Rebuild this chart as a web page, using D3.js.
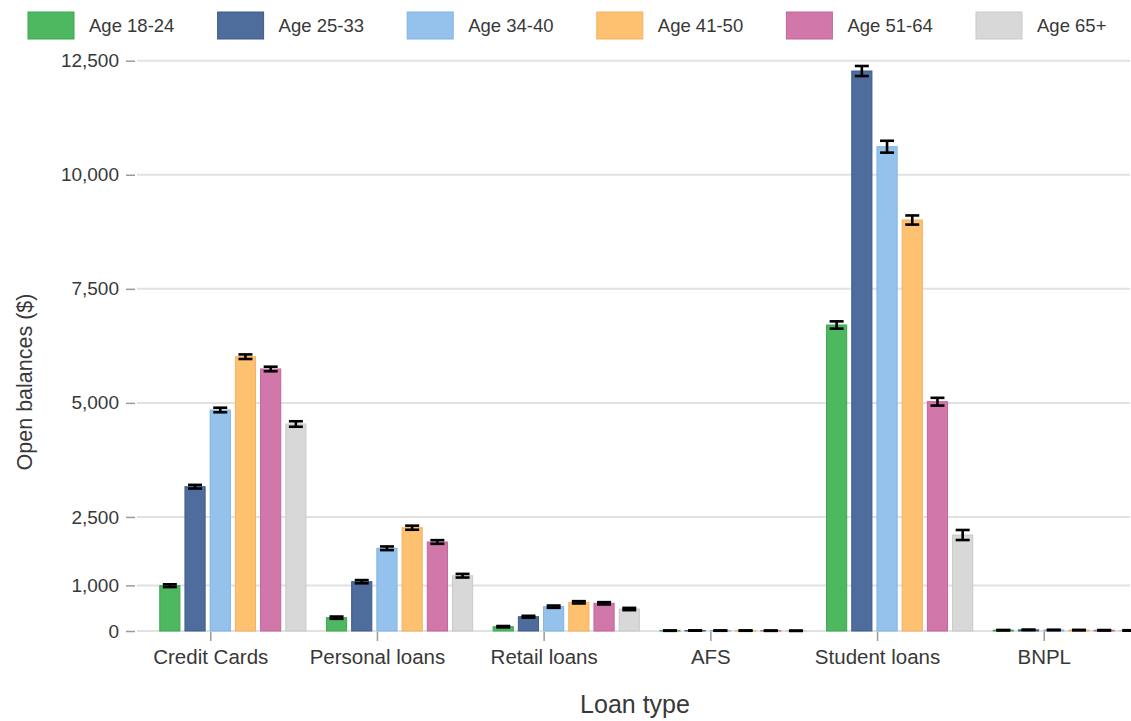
<!DOCTYPE html>
<html>
<head>
<meta charset="utf-8">
<script src="https://cdn.jsdelivr.net/npm/d3@7"></script>
<style>
  html, body { margin: 0; padding: 0; background: #fff; }
  svg { display: block; font-family: "Liberation Sans", Arial, Helvetica, sans-serif; }
</style>
</head>
<body>
<svg id="chart" width="1131" height="721"></svg>
<script>
// Loan types along the x axis
const categories = ["Credit Cards", "Personal loans", "Retail loans", "AFS", "Student loans", "BNPL"];

// Age groups (one bar per group inside each loan type)
const ageGroups = ["Age 18-24", "Age 25-33", "Age 34-40", "Age 41-50", "Age 51-64", "Age 65+"];
const ageColors = ["#4db860", "#4e6d9c", "#95c2ec", "#fec170", "#d177aa", "#d8d8d8"];
const ageStrokes = ["#3fa552", "#3e5c8a", "#7fb3e3", "#f4b160", "#c0669a", "#c9c9c9"];

// Mean open balances ($), by age group, in the order of `categories`
const age18_24 = [993, 292, 94, 8, 6707, 18];
const age25_33 = [3163, 1081, 313, 10, 12274, 25];
const age34_40 = [4844, 1813, 533, 9, 10615, 22];
const age41_50 = [6012, 2264, 629, 9, 9008, 20];
const age51_64 = [5743, 1951, 607, 7, 5026, 16];
const age65plus = [4537, 1212, 482, 5, 2104, 12];

// Standard errors ($), same layout
const err18_24 = [30, 25, 15, 4, 80, 5];
const err25_33 = [40, 35, 20, 4, 110, 5];
const err34_40 = [50, 40, 25, 4, 130, 5];
const err41_50 = [50, 45, 25, 4, 100, 5];
const err51_64 = [50, 40, 25, 4, 85, 5];
const err65plus = [60, 40, 25, 4, 110, 5];

const yTicks = [0, 1000, 2500, 5000, 7500, 10000, 12500];

const valuesByAge = [age18_24, age25_33, age34_40, age41_50, age51_64, age65plus];
const errorsByAge = [err18_24, err25_33, err34_40, err41_50, err51_64, err65plus];

// Flat records for the bars
const records = [];
ageGroups.forEach((age, a) => {
  categories.forEach((cat, c) => {
    records.push({ age, a, cat, value: valuesByAge[a][c], err: errorsByAge[a][c] });
  });
});

const svg = d3.select("#chart");
const textColor = "#383838";
const gridColor = "#e2e2e2";

// Scales
const y = d3.scaleLinear().domain([0, 12500]).range([631, 60.7]);
const x0 = d3.scaleBand().domain(categories).range([127.4, 1127.6]);
const x1 = d3.scaleBand().domain(ageGroups).range([-51, 95.2]).paddingInner(0.2);
const catCenter = c => x0(c) + x0.bandwidth() / 2;

// Horizontal grid lines
svg.append("g")
  .selectAll("line")
  .data(yTicks)
  .join("line")
  .attr("x1", 137).attr("x2", 1130)
  .attr("y1", d => y(d)).attr("y2", d => y(d))
  .attr("stroke", gridColor)
  .attr("stroke-width", 2);

// Y axis
const yAxis = svg.append("g")
  .attr("transform", "translate(135,0)")
  .call(d3.axisLeft(y).tickValues(yTicks).tickSize(9).tickPadding(7).tickFormat(d3.format(",")));
yAxis.select(".domain").remove();
yAxis.selectAll(".tick line").attr("stroke", "#9a9a9a").attr("stroke-width", 1.5);
yAxis.selectAll(".tick text").attr("fill", textColor).attr("font-size", 19);

// X axis
const xAxis = svg.append("g")
  .attr("transform", "translate(0,632)")
  .call(d3.axisBottom(x0).tickSize(9).tickPadding(8));
xAxis.select(".domain").remove();
xAxis.selectAll(".tick line").attr("stroke", "#9a9a9a").attr("stroke-width", 1.5);
xAxis.selectAll(".tick text").attr("fill", textColor).attr("font-size", 20.5);

// Bars
const barG = svg.append("g");
barG.selectAll("rect")
  .data(records)
  .join("rect")
  .attr("x", d => catCenter(d.cat) + x1(d.age))
  .attr("width", x1.bandwidth())
  .attr("y", d => y(d.value))
  .attr("height", d => y(0) - y(d.value))
  .attr("fill", d => ageColors[d.a])
  .attr("stroke", d => ageStrokes[d.a])
  .attr("stroke-width", 1);

// Error bars
const capHalf = 7;
const errG = svg.append("g")
  .attr("stroke", "#000")
  .attr("stroke-width", 2.6)
  .attr("fill", "none");
const eb = errG.selectAll("g")
  .data(records)
  .join("g")
  .attr("transform", d => `translate(${catCenter(d.cat) + x1(d.age) + x1.bandwidth() / 2},0)`);
eb.append("line")
  .attr("x1", 0).attr("x2", 0)
  .attr("y1", d => y(d.value - d.err)).attr("y2", d => y(d.value + d.err));
eb.append("line")
  .attr("x1", -capHalf).attr("x2", capHalf)
  .attr("y1", d => y(d.value + d.err)).attr("y2", d => y(d.value + d.err));
eb.append("line")
  .attr("x1", -capHalf).attr("x2", capHalf)
  .attr("y1", d => y(d.value - d.err)).attr("y2", d => y(d.value - d.err));

// Axis titles
svg.append("text")
  .attr("transform", "translate(32,382) rotate(-90)")
  .attr("text-anchor", "middle")
  .attr("fill", textColor)
  .attr("font-size", 21.5)
  .text("Open balances ($)");

svg.append("text")
  .attr("x", 635).attr("y", 713)
  .attr("text-anchor", "middle")
  .attr("fill", textColor)
  .attr("font-size", 25)
  .text("Loan type");

// Legend
const legend = svg.append("g");
const item = legend.selectAll("g")
  .data(ageGroups)
  .join("g")
  .attr("transform", (d, i) => `translate(${28 + 189.6 * i},12)`);
item.append("rect")
  .attr("width", 46).attr("height", 27)
  .attr("fill", (d, i) => ageColors[i])
  .attr("stroke", (d, i) => ageStrokes[i])
  .attr("stroke-width", 1);
item.append("text")
  .attr("x", 61).attr("y", 14)
  .attr("dy", "0.35em")
  .attr("fill", textColor)
  .attr("font-size", 18.5)
  .text(d => d);
</script>
</body>
</html>
